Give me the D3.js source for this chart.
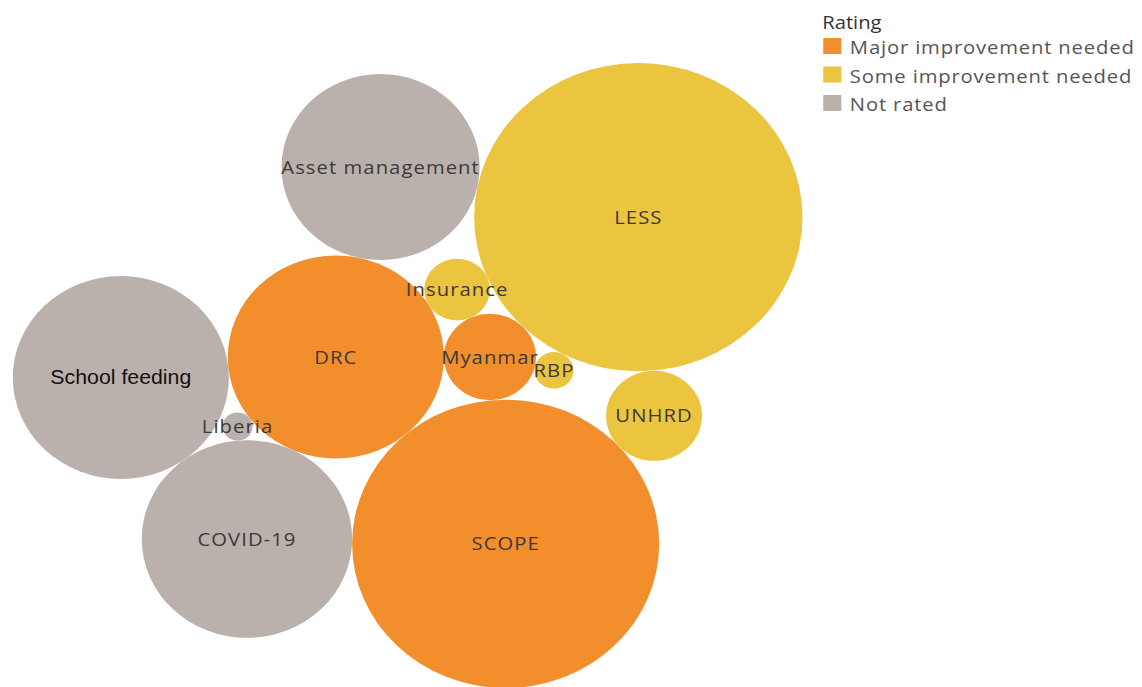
<!DOCTYPE html>
<html>
<head>
<meta charset="utf-8">
<script src="https://cdn.jsdelivr.net/npm/d3@7"></script>
<style>
  body { margin: 0; background: #fff; }
  text { font-family: "Open Sans", "Noto Sans", sans-serif; }
</style>
</head>
<body>
<div id="chart"></div>
<script>
// bubbles (size ~ area)
var names   = ["LESS", "SCOPE", "School feeding", "DRC", "COVID-19", "Asset management", "UNHRD", "Myanmar", "Insurance", "RBP", "Liberia"];
var ratings = ["Some improvement needed", "Major improvement needed", "Not rated", "Major improvement needed", "Not rated", "Not rated",
               "Some improvement needed", "Major improvement needed", "Some improvement needed", "Some improvement needed", "Not rated"];
var values  = [240, 210, 104, 104, 98.6, 87.4, 20.5, 18.9, 9.6, 3.4, 2];

var ratingLabels = ["Major improvement needed", "Some improvement needed", "Not rated"];
var ratingColors = ["#F28E2B", "#EBC53F", "#BAB0AC"];

// packing: [bubble, touches, touches, side]
var packing = [
  ["DRC"],
  ["Myanmar", "DRC"],
  ["SCOPE", "DRC", "Myanmar", 1],
  ["Insurance", "DRC", "Myanmar", -1],
  ["LESS", "Insurance", "Myanmar", -1],
  ["Asset management", "DRC", "LESS", -1],
  ["UNHRD", "LESS", "SCOPE", -1],
  ["RBP", "Myanmar", "LESS", 1],
  ["COVID-19", "DRC", "SCOPE", 1],
  ["School feeding", "DRC", "COVID-19", 1],
  ["Liberia", "DRC", "COVID-19", 1]
];

var width = 1142, height = 687,
    stretch = 1.065; // the original is a bit wider than tall

var svg = d3.select("#chart")
  .append("svg")
  .attr("width", width)
  .attr("height", height)
  .append("g")
  .attr("transform", "scale(" + stretch + ",1)");

var color = d3.scaleOrdinal().domain(ratingLabels).range(ratingColors);
var radiusScale = d3.scaleSqrt().domain([0, 240]).range([0, 155]);

var nodes = names.map(function(d, i) {
  return { name: d, rating: ratings[i], value: values[i], r: radiusScale(values[i]) };
});
var byName = {};
nodes.forEach(function(d) { byName[d.name] = d });

function place(a, b, c, side) {
  var dx = b.x - a.x, dy = b.y - a.y, d = Math.sqrt(dx * dx + dy * dy);
  var ra = a.r + c.r, rb = b.r + c.r;
  var t = (d * d + ra * ra - rb * rb) / (2 * d);
  var h = Math.sqrt(Math.max(0, ra * ra - t * t));
  var ux = dx / d, uy = dy / d;
  c.x = a.x + t * ux - side * h * uy;
  c.y = a.y + t * uy + side * h * ux;
}

packing.forEach(function(p, i) {
  var c = byName[p[0]];
  if (i == 0) { c.x = 0; c.y = 0; return }
  var a = byName[p[1]];
  if (p.length == 2) { c.x = a.x + a.r + c.r; c.y = a.y; return }
  place(a, byName[p[2]], c, p[3]);
});

var minX = d3.min(nodes, function(d) { return d.x - d.r }),
    maxX = d3.max(nodes, function(d) { return d.x + d.r }),
    minY = d3.min(nodes, function(d) { return d.y - d.r }),
    maxY = d3.max(nodes, function(d) { return d.y + d.r });

var y = d3.scaleLinear().domain([minY, maxY]).range([63, 688]);
var k = (688 - 63) / (maxY - minY);
var x = d3.scaleLinear().domain([minX, maxX]).range([12, 12 + k * (maxX - minX)]);

svg.selectAll(".bubble")
  .data(nodes)
  .enter().append("circle")
  .attr("class", "bubble")
  .attr("cx", function(d) { return x(d.x) })
  .attr("cy", function(d) { return y(d.y) })
  .attr("r", function(d) { return d.r * k })
  .attr("fill", function(d) { return color(d.rating) });

svg.selectAll(".bubble-label")
  .data(nodes)
  .enter().append("text")
  .attr("class", "bubble-label")
  .attr("x", function(d) { return x(d.x) })
  .attr("y", function(d) { return y(d.y) })
  .attr("dy", "0.35em")
  .attr("text-anchor", "middle")
  .style("font-size", function(d) { return d.name == "School feeding" ? "20px" : "19px" })
  .style("font-family", function(d) { return d.name == "School feeding" ? "'Liberation Sans', Arial, sans-serif" : null })
  .style("letter-spacing", function(d) { return d.name == "School feeding" ? "0px" : "1px" })
  .style("fill", function(d) { return d.name == "School feeding" ? "#111" : "#3a3a3a" })
  .text(function(d) { return d.name });

// legend
var legend = svg.append("g").attr("transform", "translate(772,0)");

legend.append("text")
  .attr("x", 0)
  .attr("y", 29)
  .style("font-size", "19px")
  .style("fill", "#333")
  .text("Rating");

var items = legend.selectAll(".legend-item")
  .data(ratingLabels)
  .enter().append("g")
  .attr("class", "legend-item")
  .attr("transform", function(d, i) { return "translate(0," + (54 + i * 28.5) + ")" });

items.append("rect")
  .attr("x", 1)
  .attr("y", -16)
  .attr("width", 17)
  .attr("height", 16)
  .attr("fill", function(d) { return color(d) });

items.append("text")
  .attr("x", 26)
  .attr("y", 0)
  .style("font-size", "19px")
  .style("letter-spacing", "0.8px")
  .style("fill", "#555")
  .text(function(d) { return d });
</script>
</body>
</html>
